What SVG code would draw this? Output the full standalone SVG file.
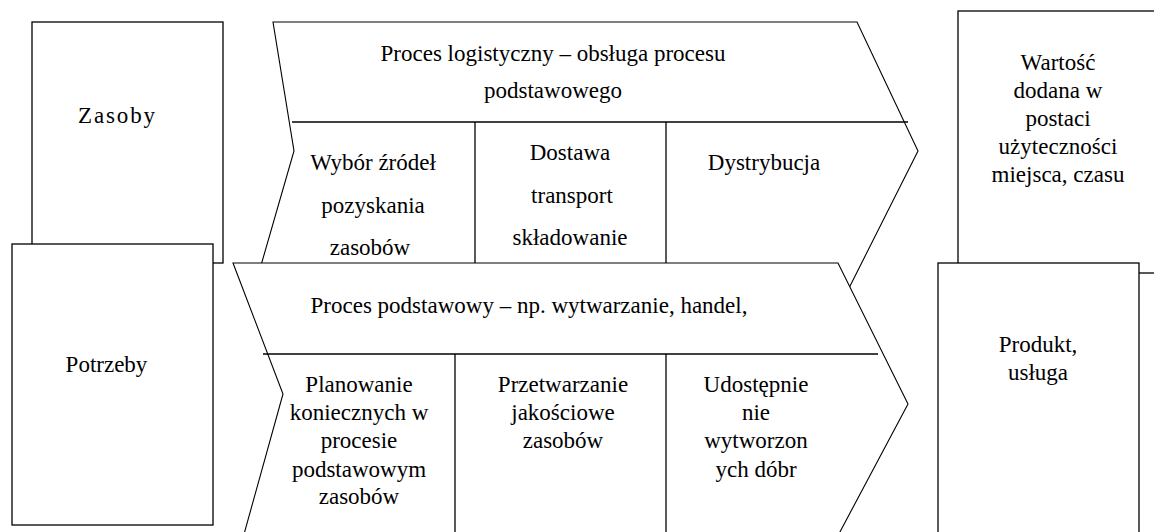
<svg xmlns="http://www.w3.org/2000/svg" width="1154" height="532" viewBox="0 0 1154 532">
<style>
.box{fill:#fff;stroke:#000;stroke-width:1.3}
.chev{fill:#fff;stroke:#000;stroke-width:1.1}
.ln{stroke:#000;stroke-width:1.3;fill:none}
text{font-family:"Liberation Serif","Times New Roman",serif;font-size:23px;fill:#000;text-anchor:middle}
</style>
<rect width="1154" height="532" fill="#fff"/>
<g id="zasoby">
<rect class="box" x="32" y="22" width="191" height="241"/>
<text x="116.5" y="123" textLength="77" lengthAdjust="spacing">Zasoby</text>
</g>
<g id="potrzeby">
<rect class="box" x="12" y="244" width="201" height="281"/>
<text x="106.5" y="372">Potrzeby</text>
</g>
<g id="proces-logistyczny">
<polygon class="chev" points="273,22 857,22 918,151 843,300 251,300 294,151"/>
<line class="ln" x1="292" y1="122" x2="908" y2="122"/>
<line class="ln" x1="475" y1="122" x2="475" y2="263"/>
<line class="ln" x1="666" y1="122" x2="666" y2="263"/>
<text x="553" y="61">Proces logistyczny – obsługa procesu</text>
<text x="553" y="98">podstawowego</text>
<text x="373" y="170">Wybór źródeł</text>
<text x="373" y="213">pozyskania</text>
<text x="370" y="255">zasobów</text>
<text x="570" y="160">Dostawa</text>
<text x="572" y="203">transport</text>
<text x="570" y="245">składowanie</text>
<text x="764" y="170">Dystrybucja</text>
</g>
<g id="proces-podstawowy">
<polygon class="chev" points="233,263 838,263 908,404 833,545 241,545 283,394"/>
<line class="ln" x1="263" y1="354" x2="878" y2="354"/>
<line class="ln" x1="455" y1="354" x2="455" y2="545"/>
<line class="ln" x1="666" y1="354" x2="666" y2="545"/>
<text x="529" y="313">Proces podstawowy – np. wytwarzanie, handel,</text>
<text x="359" y="392">Planowanie</text>
<text x="359" y="420">koniecznych w</text>
<text x="359" y="448">procesie</text>
<text x="359" y="477">podstawowym</text>
<text x="359" y="504">zasobów</text>
<text x="563" y="392">Przetwarzanie</text>
<text x="563" y="420">jakościowe</text>
<text x="563" y="448">zasobów</text>
<text x="756" y="392">Udostępnie</text>
<text x="756" y="420">nie</text>
<text x="756" y="448">wytworzon</text>
<text x="756" y="477">ych dóbr</text>
</g>
<g id="wartosc">
<rect class="box" x="958" y="11" width="210" height="262"/>
<text x="1058" y="70">Wartość</text>
<text x="1058" y="98">dodana w</text>
<text x="1058" y="126">postaci</text>
<text x="1058" y="154">użyteczności</text>
<text x="1058" y="182">miejsca, czasu</text>
</g>
<g id="produkt">
<rect class="box" x="938" y="263" width="201" height="300"/>
<text x="1038" y="352">Produkt,</text>
<text x="1038" y="380">usługa</text>
</g>
<g id="connectors"/>
</svg>
